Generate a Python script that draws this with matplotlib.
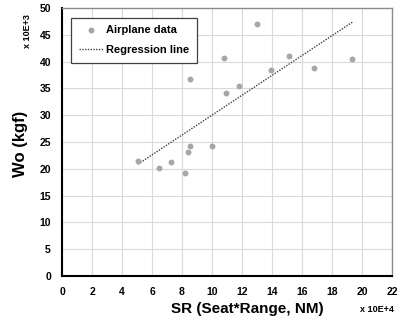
import numpy as np
import matplotlib
matplotlib.use("Agg")
import matplotlib.pyplot as plt

plt.rcParams['font.family'] = ['Liberation Sans', 'DejaVu Sans']

# airplane data: SR (x 10E+4) vs Wo (x 10E+3 kgf)
sr = [5.07, 6.49, 7.24, 8.2, 8.42, 8.53, 8.55, 10.0, 10.91, 10.8, 11.8, 13.02, 13.93, 15.15, 16.78, 19.35]
wo = [21.5, 20.1, 21.2, 19.25, 23.2, 24.2, 36.8, 24.2, 34.1, 40.7, 35.4, 47.1, 38.5, 41.0, 38.75, 40.56]

xticks = list(range(0, 23, 2))
yticks = list(range(0, 51, 5))

fig = plt.figure(figsize=(4.01, 3.23), dpi=100)
ax = fig.add_axes([62/401, 1-276/323, 330/401, 268/323])

ax.scatter(sr, wo, s=18, color="#a6a6a6", zorder=3, label="Airplane data", linewidths=0)

# linear regression over the data range
k, b = np.polyfit(sr, wo, 1)
xl = np.array([min(sr), max(sr)])
ax.plot(xl, k*xl + b, color="#404040", lw=1.0, ls=(0, (1, 1)), zorder=2, label="Regression line")

ax.set_xlim(0, 22)
ax.set_ylim(0, 50)
ax.set_xticks(xticks)
ax.set_yticks(yticks)
ax.tick_params(length=0, labelsize=7.5, pad=8)
for lab in ax.get_xticklabels() + ax.get_yticklabels():
    lab.set_fontweight("bold")
ax.grid(True, color="#d9d9d9", lw=0.8)
ax.set_axisbelow(True)
for s in ["top", "right"]:
    ax.spines[s].set_color("#8c8c8c")
    ax.spines[s].set_linewidth(1.0)
for s in ["left", "bottom"]:
    ax.spines[s].set_color("black")
    ax.spines[s].set_linewidth(1.5)

leg = ax.legend(loc="upper left", bbox_to_anchor=(0.01, 0.985), fancybox=False,
                edgecolor="#404040", framealpha=1, prop={"weight": "bold", "size": 8},
                handlelength=2.2, borderpad=0.7, labelspacing=0.9, handletextpad=0.3)
leg.get_frame().set_linewidth(0.9)

fig.text(21/401, 1-144/323, "Wo (kgf)", rotation=90, ha="center", va="center",
         fontsize=12, fontweight="bold")
fig.text(247/401, 1-309/323, "SR (Seat*Range, NM)", ha="center", va="center",
         fontsize=11, fontweight="bold")
fig.text(377/401, 1-309/323, "x 10E+4", ha="center", va="center", fontsize=6.5, fontweight="bold")
fig.text(28/401, 1-31/323, "x 10E+3", rotation=90, ha="center", va="center", fontsize=6.5, fontweight="bold")

fig.savefig("out.png", dpi=100)
